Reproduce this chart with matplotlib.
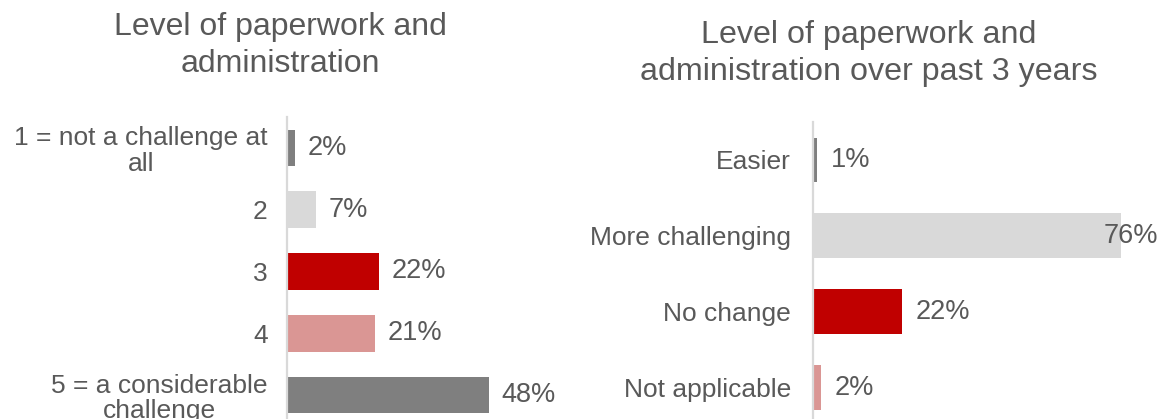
import matplotlib.pyplot as plt

plt.rcParams['font.family'] = ['Liberation Sans', 'DejaVu Sans']

TEXT = '#595959'

# left chart
left_title = "Level of paperwork and\nadministration"
left_cats = ["1 = not a challenge at\nall", "2", "3", "4", "5 = a considerable\nchallenge"]
left_vals = [2, 7, 22, 21, 48]
left_colors = ['#7f7f7f', '#d9d9d9', '#c00000', '#da9694', '#7f7f7f']

# right chart
right_title = "Level of paperwork and\nadministration over past 3 years"
right_cats = ["Easier", "More challenging", "No change", "Not applicable"]
right_vals = [1, 76, 22, 2]
right_colors = ['#7f7f7f', '#d9d9d9', '#c00000', '#da9694']


def bar_panel(ax, cats, vals, colors, xmax, pad, lab_off):
    ypos = list(range(len(cats)))
    ax.barh(ypos, vals, height=0.59, color=colors)
    ax.set_xlim(0, xmax)
    ax.set_ylim(len(cats) - 0.5, -0.5)
    ax.set_yticks(ypos)
    ax.set_yticklabels(cats, fontsize=19, color=TEXT)
    for t in ax.get_yticklabels():
        t.set_multialignment('center')
        t.set_linespacing(1.1)
    ax.tick_params(axis='y', length=0, pad=pad)
    ax.set_xticks([])
    for s in ['top', 'right', 'bottom']:
        ax.spines[s].set_visible(False)
    ax.spines['left'].set_color('#d9d9d9')
    ax.spines['left'].set_linewidth(1.6)
    for y, v in zip(ypos, vals):
        if v > 70:
            # label would run off the figure, pull it back over the bar end
            ax.annotate(f"{v}%", (v, y), xytext=(27, 0), textcoords='offset points',
                        ha='right', va='center', fontsize=19.5, color=TEXT,
                        annotation_clip=False)
        else:
            ax.annotate(f"{v}%", (v, y), xytext=(lab_off, 0), textcoords='offset points',
                        ha='left', va='center', fontsize=19.5, color=TEXT,
                        annotation_clip=False)


fig = plt.figure(figsize=(11.6, 4.19), dpi=100)

ax1 = fig.add_axes([0.2474, -0.0167, 0.2172, 0.7375])
bar_panel(ax1, left_cats, left_vals, left_colors, 60, 14, 9)

ax2 = fig.add_axes([0.7009, -0.0155, 0.2793, 0.7243])
bar_panel(ax2, right_cats, right_vals, right_colors, 80, 16, 10)

fig.text(0.2414, 0.972, left_title, ha='center', va='top', fontsize=23,
         color=TEXT, multialignment='center', linespacing=1.3)
fig.text(0.7487, 0.953, right_title, ha='center', va='top', fontsize=23.2,
         color=TEXT, multialignment='center', linespacing=1.3)

fig.savefig('out.png', dpi=100)
